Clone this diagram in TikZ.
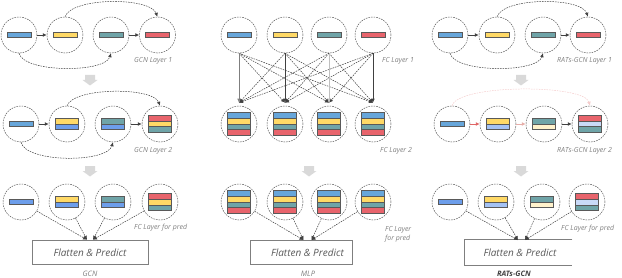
\documentclass[tikz,border=0pt]{standalone}
\usepackage{fontspec}
\setmainfont{Open Sans}
\usetikzlibrary{arrows.meta}
\definecolor{cblueA}{HTML}{67A6DA}
\definecolor{cblueB}{HTML}{6D9EEB}
\definecolor{cyel}{HTML}{FFD966}
\definecolor{cteal}{HTML}{6FA4A8}
\definecolor{cred}{HTML}{E8646C}
\definecolor{clblue}{HTML}{A4C2F4}
\definecolor{cvlblue}{HTML}{C9DAF8}
\definecolor{clyel}{HTML}{FFF2CC}
\definecolor{cline}{HTML}{595959}
\definecolor{carrow}{HTML}{404040}
\definecolor{clab}{HTML}{7F7F7F}
\definecolor{cblock}{HTML}{D9D9D9}
\definecolor{cpinkA}{HTML}{E06666}
\definecolor{cpinkB}{HTML}{E6ADA8}
\definecolor{cpinkC}{HTML}{F4CCCC}
\newcommand\onebar[2]{\filldraw[fill=#2,barline] ([shift={(-12,-2.5)}]#1.center) rectangle ([shift={(12,2.5)}]#1.center);}
\newcommand\stackbar[3]{%
  \pgfmathsetmacro\sbtop{-#2*5.8/2}%
  \pgfmathsetmacro\sbbot{#2*5.8/2}%
  \foreach \c [count=\k from 0] in {#3}{%
    \pgfmathsetmacro\sba{\sbtop+\k*5.8}%
    \pgfmathsetmacro\sbb{\sbtop+(\k+1)*5.8}%
    \fill[\c] ([shift={(-11.5,\sba)}]#1.center) rectangle ([shift={(11.5,\sbb)}]#1.center);
    \ifnum\k>0 \draw[barline] ([shift={(-11.5,\sba)}]#1.center) -- ([shift={(11.5,\sba)}]#1.center);\fi
  }
  \draw[barline] ([shift={(-11.5,\sbtop)}]#1.center) rectangle ([shift={(11.5,\sbbot)}]#1.center);
}
\begin{document}
\begin{tikzpicture}[x=1pt,y=-1pt,
  nd/.style={circle,draw=cline,dash pattern=on 1.6pt off 1pt,line width=0.5pt,minimum size=36pt,inner sep=0pt},
  barline/.style={draw=cline,line width=0.8pt},
  con/.style={draw=carrow,line width=0.5pt,dash pattern=on 1.6pt off 1pt,-{Latex[length=4pt,width=3.6pt]}},
  solidcon/.style={line width=0.6pt,-{Latex[length=4pt,width=3.6pt]}},
  shortarr/.style={draw=carrow,line width=0.9pt,-{Latex[length=4pt,width=4pt]}},
  lab/.style={font=\fontsize{7}{8.5}\selectfont\itshape,text=clab,inner sep=0pt},
  boxst/.style={draw=clab,line width=0.6pt,minimum height=24.5pt,inner sep=0pt,font=\fontsize{10}{12}\selectfont\itshape,text=cline},
  title/.style={font=\fontsize{7.5}{9}\selectfont\itshape,text=clab,inner sep=0pt},
  pics/garrow/.style={code={\fill[cblock] (-5,0) -- (5,0) -- (5,5) -- (7.5,5) -- (0,10.5) -- (-7.5,5) -- (-5,5) -- cycle;}}
]
\useasboundingbox (0,0) rectangle (622,278);

% ================= GCN =================
\node[nd] (g11) at (19,35) {};
\node[nd] (g12) at (65,35) {};
\node[nd] (g13) at (111,35) {};
\node[nd] (g14) at (157.5,35) {};
\onebar{g11}{cblueA}\onebar{g12}{cyel}\onebar{g13}{cteal}\onebar{g14}{cred}
\draw[shortarr] (g11) -- (g12);
\draw[shortarr] (g13) -- (g14);
\draw[con] (g12.north) .. controls (72,-3) and (150,-3) .. (g14.north);
\draw[con] (g11.south) .. controls (24,73) and (105,73) .. (g13.south);
\node[lab,anchor=west] (gl1) at (134,61) {GCN Layer 1};
\pic at (90,75) {garrow};

\node[nd] (g21) at (21,124) {};
\node[nd] (g22) at (67,124) {};
\node[nd] (g23) at (113,124) {};
\node[nd] (g24) at (160,124) {};
\onebar{g21}{cblueA}
\stackbar{g22}{2}{cyel,cblueB}
\stackbar{g23}{2}{cteal,cblueB}
\stackbar{g24}{3}{cred,cyel,cteal}
\draw[shortarr] (g21) -- (g22);
\draw[shortarr] (g23) -- (g24);
\draw[con] (g22.north) .. controls (74,87) and (153,87) .. (g24.north);
\draw[con] (g21.south) .. controls (26,163) and (107,163) .. (g23.south);
\node[lab,anchor=west] (gl2) at (134,151) {GCN Layer 2};
\pic at (90,166) {garrow};

\node[nd] (g31) at (21,202) {};
\node[nd] (g32) at (67,202) {};
\node[nd] (g33) at (113,202) {};
\node[nd] (g34) at (160,202) {};
\onebar{g31}{cblueB}
\stackbar{g32}{2}{cyel,cblueB}
\stackbar{g33}{2}{cteal,cblueB}
\stackbar{g34}{3}{cred,cyel,cteal}
\node[lab,anchor=west] (gl3) at (134,228) {FC Layer for pred};
\node[boxst,minimum width=116pt] (gbox) at (90,252.3) {Flatten \& Predict};
\coordinate (gin1) at ([xshift=-3pt]gbox.north);
\coordinate (gin2) at ([xshift=3pt]gbox.north);
\draw[con] (g31) -- (gin1);
\draw[con] (g32) -- (gin1);
\draw[con] (g33) -- (gin2);
\draw[con] (g34) -- (gin2);
\node[title] (gt) at (90,274) {GCN};

% ================= MLP =================
\node[nd] (m11) at (239,35) {};
\node[nd] (m12) at (285,35) {};
\node[nd] (m13) at (329,35) {};
\node[nd] (m14) at (373,35) {};
\onebar{m11}{cblueA}\onebar{m12}{cyel}\onebar{m13}{cteal}\onebar{m14}{cred}
\node[nd] (m21) at (239,124) {};
\node[nd] (m22) at (285,124) {};
\node[nd] (m23) at (329,124) {};
\node[nd] (m24) at (373,124) {};
\foreach \j in {1,...,4}{
  \stackbar{m2\j}{4}{cblueA,cyel,cteal,cred}
  \coordinate (mi\j) at ([yshift=3pt]m2\j.north);
}
\foreach \i in {1,...,4}{
  \foreach \j in {1,...,4}{
    \ifnum\i=\j\else \draw[con] (m1\i.south) -- (mi\j);\fi
  }
}
\draw[solidcon,draw=clab] (m11.south) -- (mi1);
\draw[solidcon,draw=carrow] (m12.south) -- (mi2);
\draw[solidcon,draw=black!25] (m13.south) -- (mi3);
\draw[solidcon,draw=carrow,line width=0.8pt] (m14.south) -- (mi4);
\node[lab,anchor=west] (ml1) at (382,61) {FC Layer 1};
\node[lab,anchor=west] (ml2) at (380,151) {FC Layer 2};
\pic at (309,166) {garrow};

\node[nd] (m31) at (239,202) {};
\node[nd] (m32) at (285,202) {};
\node[nd] (m33) at (329,202) {};
\node[nd] (m34) at (373,202) {};
\foreach \j in {1,...,4}{\stackbar{m3\j}{4}{cblueA,cyel,cteal,cred}}
\node[lab,anchor=west,align=left] (ml3) at (385,234.5) {FC Layer\\for pred};
\node[boxst,minimum width=102pt] (mbox) at (301,252.3) {\hspace*{13pt}Flatten \& Predict};
\coordinate (min1) at (303.5,240.1);
\coordinate (min2) at (311.5,240.1);
\draw[con] (m31) -- (min1);
\draw[con] (m32) -- (min1);
\draw[con] (m33) -- (min2);
\draw[con] (m34) -- (min2);
\node[title] (mt) at (308,274) {MLP};

% ================= RATs-GCN =================
\node[nd] (r11) at (450,35) {};
\node[nd] (r12) at (497,35) {};
\node[nd] (r13) at (543,35) {};
\node[nd] (r14) at (588,35) {};
\onebar{r11}{cblueA}\onebar{r12}{cyel}\onebar{r13}{cteal}\onebar{r14}{cred}
\draw[shortarr] (r11) -- (r12);
\draw[shortarr] (r13) -- (r14);
\draw[con] (r12.north) .. controls (504,-3) and (581,-3) .. (r14.north);
\draw[con] (r11.south) .. controls (455,73) and (537,73) .. (r13.south);
\node[lab,anchor=west] (rl1) at (557,61) {RATs-GCN Layer 1};
\pic at (521,75) {garrow};

\node[nd] (r21) at (452,124) {};
\node[nd] (r22) at (498,124) {};
\node[nd] (r23) at (544,124) {};
\node[nd] (r24) at (590,124) {};
\onebar{r21}{cblueA}
\stackbar{r22}{2}{cyel,clblue}
\stackbar{r23}{2}{cteal,clyel}
\stackbar{r24}{3}{cred,cvlblue,cteal}
\draw[shortarr,draw=cpinkA] (r21) -- (r22);
\draw[shortarr,draw=cpinkB] (r22) -- (r23);
\draw[shortarr] (r23) -- (r24);
\draw[con,draw=cpinkC] (r21.north) .. controls (458,84) and (584,84) .. (r24.north);
\node[lab,anchor=west] (rl2) at (557,151) {RATs-GCN Layer 2};
\pic at (521,166) {garrow};

\node[nd] (r31) at (450,202) {};
\node[nd] (r32) at (496,202) {};
\node[nd] (r33) at (542,202) {};
\node[nd] (r34) at (587,202) {};
\onebar{r31}{cblueB}
\stackbar{r32}{2}{cyel,clblue}
\stackbar{r33}{2}{cteal,clyel}
\stackbar{r34}{3}{cred,cvlblue,cteal}
\node[lab,anchor=west] (rl3) at (561,229) {FC Layer for pred};
\node[boxst,draw=none,minimum width=107pt] (rbox) at (518.5,252.3) {\hspace*{3pt}Flatten \& Predict};
\draw[draw=clab,line width=0.6pt] (rbox.north east) -- (rbox.north west) -- (rbox.south west) -- (rbox.south east);
\coordinate (rin1) at (518,240.1);
\coordinate (rin2) at (525,240.1);
\draw[con] (r31) -- (rin1);
\draw[con] (r32) -- (rin1);
\draw[con] (r33) -- (rin2);
\draw[con] (r34) -- (rin2);
\node[title,font=\fontsize{7.5}{9}\selectfont\bfseries\itshape,text=carrow] (rt) at (514,274) {RATs-GCN};
\end{tikzpicture}
\end{document}
